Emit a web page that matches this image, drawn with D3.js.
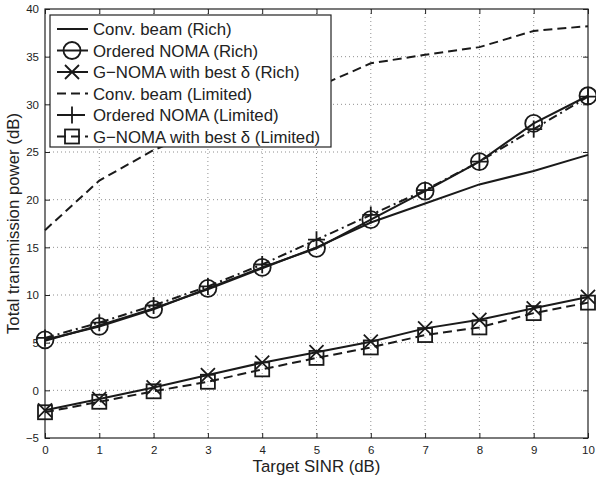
<!DOCTYPE html>
<html>
<head>
<meta charset="utf-8">
<script src="https://cdn.jsdelivr.net/npm/d3@7"></script>
<style>
  body { margin: 0; background: #fff; }
  svg { display: block; font-family: "Liberation Sans", Arial, sans-serif; }
</style>
</head>
<body>
<div id="chart"></div>
<script>
// x axis values (Target SINR, dB)
let sinr = [0, 1, 2, 3, 4, 5, 6, 7, 8, 9, 10];

// series values (Total transmission power, dB)
let convRich     = [5.2, 6.8, 8.6, 10.6, 12.8, 15.0, 17.6, 19.6, 21.6, 23.0, 24.7];
let orderedRich  = [5.3, 6.7, 8.5, 10.7, 12.9, 14.9, 17.9, 20.9, 24.0, 28.0, 30.9];
let gnomaRich    = [-2.1, -0.9, 0.3, 1.6, 2.9, 4.0, 5.1, 6.5, 7.4, 8.6, 9.8];
let convLim      = [16.8, 22.0, 25.2, 27.6, 29.8, 31.8, 34.3, 35.2, 36.0, 37.7, 38.2];
let orderedLim   = [5.5, 7.1, 8.9, 10.9, 13.2, 15.8, 18.4, 21.0, 24.0, 27.4, 30.8];
let gnomaLim     = [-2.3, -1.2, -0.1, 0.9, 2.2, 3.4, 4.5, 5.8, 6.6, 8.1, 9.2];

let legendLabels = [
    "Conv. beam (Rich)",
    "Ordered NOMA (Rich)",
    "G\u2212NOMA with best \u03b4 (Rich)",
    "Conv. beam (Limited)",
    "Ordered NOMA (Limited)",
    "G\u2212NOMA with best \u03b4 (Limited)"
];

let xTicks = [0, 1, 2, 3, 4, 5, 6, 7, 8, 9, 10];
let yTicks = [-5, 0, 5, 10, 15, 20, 25, 30, 35, 40];

let series = [
    { values: convRich,    dash: null,        marker: "none" },
    { values: orderedRich, dash: null,        marker: "circle" },
    { values: gnomaRich,   dash: null,        marker: "x" },
    { values: convLim,     dash: "9,5",       marker: "none" },
    { values: orderedLim,  dash: "9,4,2,4",   marker: "plus" },
    { values: gnomaLim,    dash: "9,5",       marker: "square" }
];

function gen_chart() {
    let width = 596, height = 479;
    let margin = { left: 45, right: 8, top: 9, bottom: 41 };

    let svg = d3.select("#chart").append("svg")
        .attr("width", width)
        .attr("height", height);

    let x = d3.scaleLinear().domain([0, 10]).range([margin.left, width - margin.right]);
    let y = d3.scaleLinear().domain([-5, 40]).range([height - margin.bottom, margin.top]);

    let g = svg.append("g");

    // grid
    g.selectAll(".vgrid").data(xTicks.slice(1, -1)).enter().append("line")
        .attr("x1", d => x(d)).attr("x2", d => x(d))
        .attr("y1", y(-5)).attr("y2", y(40))
        .attr("stroke", "#444").attr("stroke-width", 0.6)
        .attr("stroke-dasharray", "1,3");
    g.selectAll(".hgrid").data(yTicks.slice(1, -1)).enter().append("line")
        .attr("y1", d => y(d)).attr("y2", d => y(d))
        .attr("x1", x(0)).attr("x2", x(10))
        .attr("stroke", "#444").attr("stroke-width", 0.6)
        .attr("stroke-dasharray", "1,3");

    // axes (ticks pointing inward, matlab style)
    let fs = "11.5px";
    let xAxis = g.append("g").attr("transform", "translate(0," + y(-5) + ")")
        .call(d3.axisBottom(x).tickValues(xTicks).tickSize(-5).tickPadding(8).tickFormat(d3.format("d")));
    let xTop = g.append("g").attr("transform", "translate(0," + y(40) + ")")
        .call(d3.axisTop(x).tickValues(xTicks).tickSize(-5).tickFormat(""));
    let yAxis = g.append("g").attr("transform", "translate(" + x(0) + ",0)")
        .call(d3.axisLeft(y).tickValues(yTicks).tickSize(-5).tickPadding(6)
            .tickFormat(d => d < 0 ? "\u2212" + Math.abs(d) : d));
    let yRight = g.append("g").attr("transform", "translate(" + x(10) + ",0)")
        .call(d3.axisRight(y).tickValues(yTicks).tickSize(-5).tickFormat(""));

    [xAxis, xTop, yAxis, yRight].forEach(a => {
        a.select(".domain").remove();
        a.selectAll("line").attr("stroke", "#222").attr("stroke-width", 1);
        a.selectAll("text").attr("fill", "#222").style("font-size", fs)
            .style("font-family", "Liberation Sans, Arial, sans-serif");
    });

    g.append("rect")
        .attr("x", x(0)).attr("y", y(40))
        .attr("width", x(10) - x(0)).attr("height", y(-5) - y(40))
        .attr("fill", "none").attr("stroke", "#222").attr("stroke-width", 1.2);

    // lines
    let line = d3.line().x((d, i) => x(sinr[i])).y(d => y(d));

    series.forEach(s => {
        g.append("path")
            .datum(s.values)
            .attr("d", line)
            .attr("fill", "none")
            .attr("stroke", "#1a1a1a")
            .attr("stroke-width", 2)
            .attr("stroke-dasharray", s.dash);

        let pts = s.values.map((v, i) => [x(sinr[i]), y(v)]);
        pts.forEach(p => drawMarker(g, s.marker, p[0], p[1]));
    });

    // legend
    let lx = 50, ly = 15, lw = 281, lh = 132;
    let leg = svg.append("g");
    leg.append("rect")
        .attr("x", lx).attr("y", ly).attr("width", lw).attr("height", lh)
        .attr("fill", "#fff").attr("stroke", "#222").attr("stroke-width", 1.2);

    legendLabels.forEach((label, i) => {
        let cy = ly + 14 + i * 21.5;
        let s = series[i];
        leg.append("line")
            .attr("x1", lx + 7).attr("x2", lx + 38)
            .attr("y1", cy).attr("y2", cy)
            .attr("stroke", "#1a1a1a").attr("stroke-width", 2)
            .attr("stroke-dasharray", s.dash);
        drawMarker(leg, s.marker, lx + 22, cy);
        leg.append("text")
            .attr("x", lx + 43).attr("y", cy)
            .attr("dy", "0.36em")
            .attr("fill", "#222")
            .style("font-size", "16.8px")
            .text(label);
    });

    // axis labels
    svg.append("text")
        .attr("x", (x(0) + x(10)) / 2).attr("y", 472)
        .attr("text-anchor", "middle")
        .attr("fill", "#222")
        .style("font-size", "16.8px")
        .text("Target SINR (dB)");

    svg.append("text")
        .attr("transform", "translate(19," + ((y(-5) + y(40)) / 2) + ") rotate(-90)")
        .attr("text-anchor", "middle")
        .attr("fill", "#222")
        .style("font-size", "16.8px")
        .text("Total transmission power (dB)");
}

function drawMarker(sel, type, cx, cy) {
    let st = "#1a1a1a", sw = 1.8;
    if (type === "circle") {
        sel.append("circle").attr("cx", cx).attr("cy", cy).attr("r", 8.5)
            .attr("fill", "none").attr("stroke", st).attr("stroke-width", sw);
    } else if (type === "square") {
        sel.append("rect").attr("x", cx - 7).attr("y", cy - 7).attr("width", 14).attr("height", 14)
            .attr("fill", "none").attr("stroke", st).attr("stroke-width", sw);
    } else if (type === "x") {
        let r = 7;
        sel.append("path")
            .attr("d", "M" + (cx - r) + "," + (cy - r) + "L" + (cx + r) + "," + (cy + r) +
                "M" + (cx - r) + "," + (cy + r) + "L" + (cx + r) + "," + (cy - r))
            .attr("stroke", st).attr("stroke-width", sw).attr("fill", "none");
    } else if (type === "plus") {
        let r = 8.5;
        sel.append("path")
            .attr("d", "M" + (cx - r) + "," + cy + "L" + (cx + r) + "," + cy +
                "M" + cx + "," + (cy - r) + "L" + cx + "," + (cy + r))
            .attr("stroke", st).attr("stroke-width", sw).attr("fill", "none");
    }
}

gen_chart();
</script>
</body>
</html>
